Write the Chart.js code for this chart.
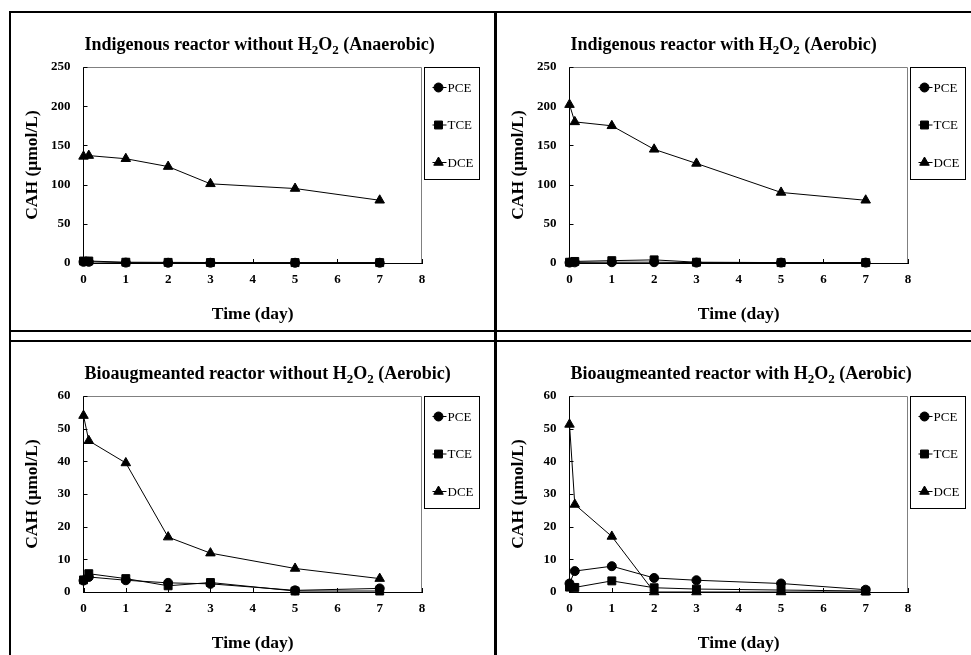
<!DOCTYPE html>
<html lang="en">
<head>
<meta charset="UTF-8">
<title>CAH concentration in reactors</title>
<script src="https://cdn.jsdelivr.net/npm/chart.js"></script>
<style>
  html, body { margin: 0; padding: 0; width: 971px; height: 655px; overflow: hidden; background: #fff; }
  .panel { position: absolute; width: 483px; height: 317px; }
  .line { position: absolute; background: #000; }
</style>
</head>
<body>
<!-- panel frames -->
<div class="line" style="left:9px;top:11px;width:962px;height:2px"></div>
<div class="line" style="left:9px;top:330px;width:962px;height:2px"></div>
<div class="line" style="left:9px;top:340px;width:962px;height:2px"></div>
<div class="line" style="left:9px;top:11px;width:2px;height:644px"></div>
<div class="line" style="left:494px;top:11px;width:3px;height:644px"></div>

<canvas id="c1" class="panel" width="483" height="317" style="left:11px;top:13px"></canvas>
<canvas id="c2" class="panel" width="483" height="317" style="left:497px;top:13px"></canvas>
<canvas id="c3" class="panel" width="483" height="317" style="left:11px;top:342px"></canvas>
<canvas id="c4" class="panel" width="483" height="317" style="left:497px;top:342px"></canvas>

<script>
// sampling times (day)
const days = [0, 0.125, 1, 2, 3, 5, 7];
const seriesNames = ['PCE', 'TCE', 'DCE'];

// Indigenous reactor without H2O2 (Anaerobic)
const p1Pce = [1.5, 1.5, 0.5, 0.3, 0.3, 0.3, 0.3];
const p1Tce = [2.5, 2.5, 1.0, 0.8, 0.6, 0.5, 0.5];
const p1Dce = [136, 137, 133, 123, 101, 95, 80];

// Indigenous reactor with H2O2 (Aerobic)
const p2Pce = [0.5, 0.8, 1.0, 1.0, 0.5, 0.5, 0.5];
const p2Tce = [1.0, 2.0, 3.0, 4.0, 1.0, 0.5, 0.5];
const p2Dce = [202, 180, 175, 145, 127, 90, 80];

// Bioaugmeanted reactor without H2O2 (Aerobic)
const p3Pce = [3.5, 4.6, 3.6, 2.8, 2.5, 0.5, 1.1];
const p3Tce = [3.7, 5.6, 4.1, 1.9, 2.9, 0.3, 0.3];
const p3Dce = [54, 46.3, 39.5, 16.8, 11.9, 7.2, 4.1];

// Bioaugmeanted reactor with H2O2 (Aerobic)
const p4Pce = [2.6, 6.4, 7.9, 4.3, 3.6, 2.6, 0.7];
const p4Tce = [1.5, 1.4, 3.4, 1.3, 0.9, 0.6, 0.3];
const p4Dce = [51.3, 26.8, 17.0, 0, 0, 0, 0];

// title pieces: [text, isSubscript]
const titles = [
    [['Indigenous reactor without H', 0], ['2', 1], ['O', 0], ['2', 1], [' (Anaerobic)', 0]],
    [['Indigenous reactor with H', 0], ['2', 1], ['O', 0], ['2', 1], [' (Aerobic)', 0]],
    [['Bioaugmeanted reactor without H', 0], ['2', 1], ['O', 0], ['2', 1], [' (Aerobic)', 0]],
    [['Bioaugmeanted reactor with H', 0], ['2', 1], ['O', 0], ['2', 1], [' (Aerobic)', 0]]
];
const yMax = [250, 250, 60, 60];
const yStep = [50, 50, 10, 10];
const xMax = 8;

const serif = '"Liberation Serif", "Times New Roman", serif';
Chart.defaults.font.family = serif;
Chart.defaults.color = '#000';

// title with real subscripts
const titlePlugin = {
    id: 'subTitle',
    afterDraw(chart) {
        const parts = chart.options.plugins.subTitle.parts;
        const ctx = chart.ctx;
        let x = chart.chartArea.left + 1;
        const y = chart.chartArea.top - 17;
        ctx.save();
        ctx.fillStyle = '#000';
        ctx.textBaseline = 'alphabetic';
        parts.forEach(([txt, sub]) => {
            ctx.font = sub ? 'bold 13px ' + serif : 'bold 18px ' + serif;
            ctx.fillText(txt, x, sub ? y + 4 : y);
            x += ctx.measureText(txt).width;
        });
        ctx.restore();
    }
};

// gray top/right plot frame and inward tick marks
const framePlugin = {
    id: 'frame',
    afterDatasetsDraw(chart) {
        const ctx = chart.ctx, a = chart.chartArea;
        const xs = chart.scales.x, ys = chart.scales.y;
        ctx.save();
        ctx.lineWidth = 1;
        ctx.strokeStyle = '#808080';
        ctx.beginPath();
        ctx.moveTo(a.left, a.top + 0.5);
        ctx.lineTo(a.right - 0.5, a.top + 0.5);
        ctx.lineTo(a.right - 0.5, a.bottom);
        ctx.stroke();
        ctx.strokeStyle = '#000';
        ctx.beginPath();
        xs.ticks.forEach(t => {
            const px = Math.round(xs.getPixelForValue(t.value)) + 0.5;
            ctx.moveTo(px, a.bottom);
            ctx.lineTo(px, a.bottom - 4);
        });
        ys.ticks.forEach(t => {
            const py = Math.round(ys.getPixelForValue(t.value)) + 0.5;
            ctx.moveTo(a.left, py);
            ctx.lineTo(a.left + 4, py);
        });
        ctx.stroke();
        ctx.restore();
    }
};

// boxed legend to the right of the plot
const legendPlugin = {
    id: 'boxLegend',
    afterDraw(chart) {
        const ctx = chart.ctx, a = chart.chartArea;
        const left = Math.round(a.right + 2) + 0.5, top = Math.round(a.top) + 0.5;
        ctx.save();
        ctx.lineWidth = 1;
        ctx.strokeStyle = '#000';
        ctx.fillStyle = '#000';
        ctx.strokeRect(left, top, 55, 112);
        ctx.font = '13px ' + serif;
        ctx.textBaseline = 'middle';
        chart.data.datasets.forEach((ds, i) => {
            const y = top + 20 + i * 37.5;
            const mx = left + 14;
            ctx.beginPath();
            ctx.moveTo(mx - 6, y);
            ctx.lineTo(mx + 8, y);
            ctx.stroke();
            Chart.helpers.drawPoint(ctx, {pointStyle: ds.pointStyle, radius: ds.pointRadius, borderWidth: 1}, mx, y);
            ctx.fillText(ds.label, left + 23, y + 1);
        });
        ctx.restore();
    }
};

function makeSet(label, values, style, radius) {
    return {
        label: label,
        data: days.map((d, i) => ({x: d, y: values[i]})),
        borderColor: '#000',
        backgroundColor: '#000',
        borderWidth: 1,
        pointStyle: style,
        pointRadius: radius,
        pointBorderWidth: 1,
        tension: 0,
        clip: false
    };
}

function makeChart(id, idx, pce, tce, dce) {
    return new Chart(document.getElementById(id), {
        type: 'line',
        data: {
            datasets: [
                makeSet(seriesNames[0], pce, 'circle', 4.5),
                makeSet(seriesNames[1], tce, 'rect', 5.6),
                makeSet(seriesNames[2], dce, 'triangle', 5.5)
            ]
        },
        options: {
            responsive: false,
            animation: false,
            layout: {padding: {top: 54, right: 72, left: 0, bottom: 0}},
            plugins: {
                legend: {display: false},
                tooltip: {enabled: false},
                subTitle: {parts: titles[idx]}
            },
            scales: {
                x: {
                    type: 'linear',
                    min: 0,
                    max: xMax,
                    afterFit: s => { s.height = 67; },
                    grid: {display: false, drawTicks: false},
                    border: {color: '#000', width: 1},
                    ticks: {stepSize: 1, padding: 9, font: {size: 13, weight: 'bold'}},
                    title: {display: true, text: 'Time (day)', padding: {bottom: 5}, font: {size: 17.5, weight: 'bold'}}
                },
                y: {
                    min: 0,
                    max: yMax[idx],
                    afterFit: s => { s.width = 72.5; },
                    grid: {display: false, drawTicks: false},
                    border: {color: '#000', width: 1},
                    ticks: {stepSize: yStep[idx], padding: 13, font: {size: 13, weight: 'bold'}},
                    title: {display: true, text: 'CAH (μmol/L)', padding: {top: 11}, font: {size: 17.5, weight: 'bold'}}
                }
            }
        },
        plugins: [titlePlugin, framePlugin, legendPlugin]
    });
}

makeChart('c1', 0, p1Pce, p1Tce, p1Dce);
makeChart('c2', 1, p2Pce, p2Tce, p2Dce);
makeChart('c3', 2, p3Pce, p3Tce, p3Dce);
makeChart('c4', 3, p4Pce, p4Tce, p4Dce);
</script>
</body>
</html>
